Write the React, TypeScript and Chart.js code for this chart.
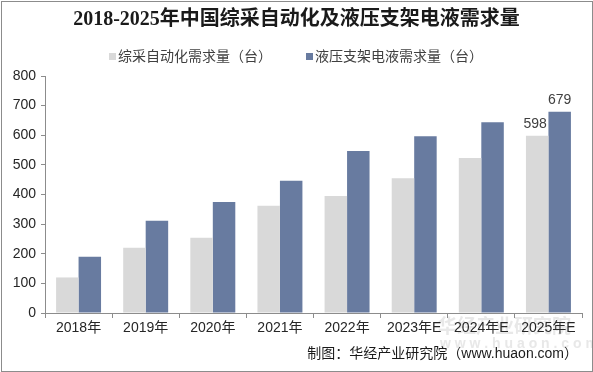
import React, { useEffect, useRef } from "react";
import { Chart, registerables } from "chart.js";

Chart.register(...registerables);

const titleText = "2018-2025年中国综采自动化及液压支架电液需求量";
const categories = ["2018年", "2019年", "2020年", "2021年", "2022年", "2023年E", "2024年E", "2025年E"];
const seriesNames = ["综采自动化需求量（台）", "液压支架电液需求量（台）"];
const fullyMechanized = [120, 220, 254, 362, 395, 455, 523, 598];
const electroHydraulic = [190, 311, 375, 446, 547, 597, 644, 679];
const yTicks = [0, 100, 200, 300, 400, 500, 600, 700, 800];
const labelledIndex = 7;
const footerText = "制图：华经产业研究院（www.huaon.com）";

const W = 593;
const H = 372;
const SANS = "'Liberation Sans', 'Noto Sans CJK SC', sans-serif";
const colors = ["#D9D9D9", "#687BA0"];

const decorPlugin = {
  id: "decor",
  beforeDraw(chart: any) {
    const ctx = chart.ctx;
    ctx.save();
    ctx.fillStyle = "#ffffff";
    ctx.fillRect(0, 0, W, H);
    // watermark
    ctx.fillStyle = "rgba(210,210,210,0.5)";
    ctx.font = `bold 19px 'Noto Sans CJK SC', sans-serif`;
    ctx.textAlign = "left";
    ctx.textBaseline = "middle";
    ctx.fillText("华经产业研究院", 438, 326);
    ctx.font = `bold 14px ${SANS}`;
    ctx.fillText("w w w . h u a o n . c o m", 440, 344);
    ctx.restore();
  },
  afterDraw(chart: any) {
    const ctx = chart.ctx;
    ctx.save();
    // title
    ctx.fillStyle = "#1a1a1a";
    ctx.font = `bold 20px 'Liberation Serif', 'Noto Sans CJK SC', serif`;
    ctx.textAlign = "center";
    ctx.textBaseline = "middle";
    ctx.fillText(titleText, W / 2, 20);
    // legend
    ctx.font = `14px ${SANS}`;
    ctx.textAlign = "left";
    const ds = chart.data.datasets;
    const xs = [109, 306];
    ds.forEach((d: any, i: number) => {
      ctx.fillStyle = d.backgroundColor;
      ctx.fillRect(xs[i], 53, 7, 7);
      ctx.fillStyle = "#404040";
      ctx.fillText(d.label, xs[i] + 9, 57);
    });
    // data labels
    ctx.font = `14px ${SANS}`;
    ctx.textAlign = "center";
    ctx.textBaseline = "bottom";
    ctx.fillStyle = "#404040";
    ds.forEach((d: any, i: number) => {
      const meta = chart.getDatasetMeta(i);
      const el = meta.data[labelledIndex];
      if (el) {
        const off = i === 0 ? -2 : 0;
        ctx.fillText(String(d.data[labelledIndex]), el.x + off, el.y - 5);
      }
    });
    // footer
    ctx.font = `14px ${SANS}`;
    ctx.textAlign = "right";
    ctx.textBaseline = "middle";
    ctx.fillStyle = "#1a1a1a";
    ctx.fillText(footerText, 578, 354);
    ctx.restore();
  },
};

export default function App() {
  const ref = useRef<HTMLCanvasElement>(null);
  useEffect(() => {
    document.body.style.margin = "0";
    const chart = new Chart(ref.current!, {
      type: "bar",
      data: {
        labels: categories,
        datasets: [
          { label: seriesNames[0], data: fullyMechanized, backgroundColor: colors[0], categoryPercentage: 0.67, barPercentage: 1.0 },
          { label: seriesNames[1], data: electroHydraulic, backgroundColor: colors[1], categoryPercentage: 0.67, barPercentage: 1.0 },
        ],
      },
      options: {
        responsive: false,
        animation: false,
        devicePixelRatio: 1,
        layout: { padding: { top: 76, right: 11, left: 0, bottom: 0 } },
        plugins: { legend: { display: false }, title: { display: false }, tooltip: { enabled: false } },
        scales: {
          x: {
            grid: { drawOnChartArea: false, drawTicks: true, tickLength: 5, color: "#8c8c8c", offset: true },
            border: { color: "#8c8c8c", width: 1 },
            ticks: { color: "#262626", font: { family: SANS, size: 14 }, padding: 2, maxRotation: 0, autoSkip: false },
            afterFit: (s: any) => { s.height = H - 313; },
          },
          y: {
            min: 0,
            max: 800,
            afterBuildTicks: (s: any) => { s.ticks = yTicks.map((v) => ({ value: v })); },
            grid: { drawOnChartArea: false, drawTicks: true, tickLength: 4, color: "#8c8c8c" },
            border: { color: "#8c8c8c", width: 1 },
            ticks: { color: "#262626", font: { family: SANS, size: 14 }, padding: 5 },
            afterFit: (s: any) => { s.width = 45; },
          },
        },
      },
      plugins: [decorPlugin],
    });
    return () => chart.destroy();
  }, []);
  return (
    <div style={{ position: "relative", width: W, height: H }}>
      <canvas ref={ref} width={W} height={H} style={{ position: "absolute", left: 0, top: 0 }} />
      <div style={{ position: "absolute", left: 1, top: 1, width: W - 3, height: H - 3, border: "1px solid #8c8c8c", pointerEvents: "none" }} />
    </div>
  );
}
